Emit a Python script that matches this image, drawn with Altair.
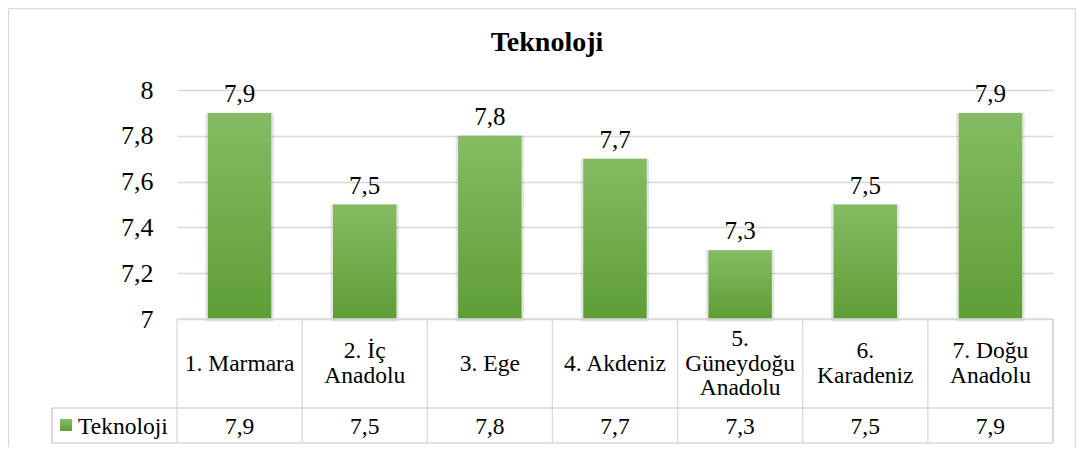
import altair as alt
import pandas as pd

categories = ["1. Marmara", "2. İç Anadolu", "3. Ege", "4. Akdeniz",
              "5. Güneydoğu Anadolu", "6. Karadeniz", "7. Doğu Anadolu"]
table_labels = ["1. Marmara", "2. İç\nAnadolu", "3. Ege", "4. Akdeniz",
                "5.\nGüneydoğu\nAnadolu", "6.\nKaradeniz", "7. Doğu\nAnadolu"]
values = [7.9, 7.5, 7.8, 7.7, 7.3, 7.5, 7.9]
series_name = "Teknoloji"
title_text = "Teknoloji"
y_ticks = [7, 7.2, 7.4, 7.6, 7.8, 8]

df = pd.DataFrame({"cat": categories, "lab": table_labels, "value": values})

FONT = "Liberation Serif"
GRID = "#d9d9d9"
W, H = 876, 229
ROW1, ROW2 = 318, 353  # table row bottoms (pixels below plot top)
LH = 24.5

x = alt.X("cat:N", sort=categories, axis=None,
          scale=alt.Scale(paddingInner=0, paddingOuter=0))
y = alt.Y("value:Q", scale=alt.Scale(domain=[7, 8], zero=False, nice=False),
          axis=alt.Axis(values=y_ticks,
                        labelExpr="replace(format(datum.value, '~g'), '.', ',')",
                        grid=True, gridColor=GRID, gridWidth=1.3, domain=False,
                        ticks=False, labelPadding=24, labelFont=FONT,
                        labelFontSize=26, labelColor="#000", title=None))

base = alt.Chart(df).transform_calculate(
    txt="replace(format(datum.value, '.1f'), '.', ',')",
    cy=f"{(H + ROW1) / 2} - (length(split(datum.lab, '\\n')) - 1) * {LH / 2}",
)

grad = alt.Gradient(
    gradient="linear",
    stops=[alt.GradientStop(color="#84BC63", offset=0),
           alt.GradientStop(color="#5E9E35", offset=1)],
    x1=0, x2=0, y1=0, y2=1,
)

shadow = base.mark_bar(width=alt.RelativeBandSize(0.507), fill="#000", fillOpacity=0.0,
                       stroke="#000", strokeOpacity=0.10, strokeWidth=5,
                       strokeJoin="round", yOffset=2).encode(x=x, y=y, y2=alt.datum(7))
bars = base.mark_bar(width=alt.RelativeBandSize(0.507), fill=grad).encode(
    x=x, y=y, y2=alt.datum(7))

labels = base.mark_text(font=FONT, fontSize=25, color="#000", baseline="alphabetic",
                        dy=-11).encode(x=x, y=alt.Y("value:Q"), text="txt:N")

# table
hlines = pd.DataFrame({"yy": [H, ROW1, ROW2], "x0": [0, -125, -125]})
hl = alt.Chart(hlines).mark_rule(color=GRID, strokeWidth=1.3).encode(
    x=alt.X("x0:Q", scale=None), x2=alt.value(W), y=alt.Y("yy:Q", scale=None))

vl = base.mark_rule(color=GRID, strokeWidth=1.3).encode(
    x=alt.X("cat:N", sort=categories, axis=None, bandPosition=0,
            scale=alt.Scale(paddingInner=0, paddingOuter=0)),
    y=alt.value(H), y2=alt.value(ROW2))
vr = alt.Chart(df).mark_rule(color=GRID, strokeWidth=1.3).encode(
    x=alt.value(W), y=alt.value(H), y2=alt.value(ROW2))
vleg = alt.Chart(df).mark_rule(color=GRID, strokeWidth=1.3).encode(
    x=alt.value(-125), y=alt.value(ROW1), y2=alt.value(ROW2))

cat_text = base.mark_text(font=FONT, fontSize=23.5, color="#000", lineBreak="\n",
                          lineHeight=LH, baseline="middle").encode(
    x=x, y=alt.Y("cy:Q", scale=None), text="lab:N")
val_text = base.mark_text(font=FONT, fontSize=23.5, color="#000", baseline="middle").encode(
    x=x, y=alt.value((ROW1 + ROW2) / 2 + 1), text="txt:N")

leg_sq = alt.Chart(pd.DataFrame({"s": [series_name]})).mark_rect(fill=grad).encode(
    x=alt.value(-117), x2=alt.value(-105), y=alt.value(ROW1 + 11), y2=alt.value(ROW1 + 23))
leg_txt = alt.Chart(pd.DataFrame({"s": [series_name]})).mark_text(
    font=FONT, fontSize=23.5, color="#000", align="left", baseline="middle").encode(
    x=alt.value(-99), y=alt.value((ROW1 + ROW2) / 2 + 1), text="s:N")

title = alt.Chart(pd.DataFrame({"t": [title_text]})).mark_text(
    font=FONT, fontSize=28, fontWeight="bold", color="#000", baseline="alphabetic").encode(
    x=alt.value(370), y=alt.value(-39.5), text="t:N")

frame = alt.Chart(pd.DataFrame({"a": [0]})).mark_rule(color=GRID, strokeWidth=1.3)
fl = frame.encode(x=alt.value(-168.5), y=alt.value(-81.5), y2=alt.value(360))
fr = frame.encode(x=alt.value(898.5), y=alt.value(-81.5), y2=alt.value(360))
ft = frame.encode(x=alt.value(-168.5), x2=alt.value(898.5), y=alt.value(-81.5))

chart = alt.layer(
    fl, fr, ft, shadow, bars, labels, hl, vl, vr, vleg, cat_text, val_text,
    leg_sq, leg_txt, title
).properties(
    width=W, height=H,
    autosize=alt.AutoSizeParams(type="none"),
    padding={"left": 169, "top": 82, "right": 23, "bottom": 128},
).configure(
    font=FONT, background="white", view=alt.ViewConfig(stroke=None)
)

chart.save("out.html", embed_options={"renderer": "svg", "actions": False})
